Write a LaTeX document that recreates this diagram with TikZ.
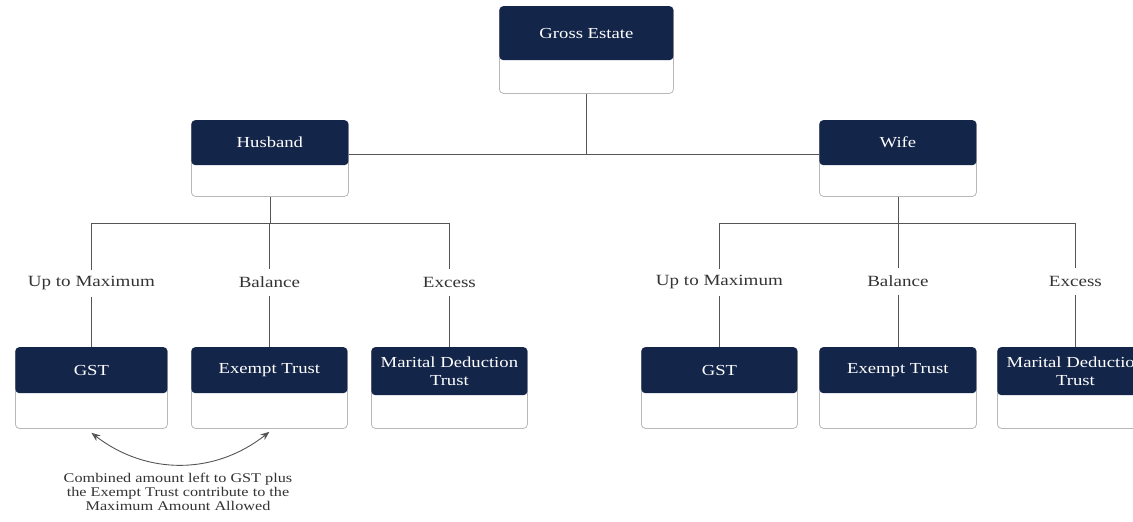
\documentclass[tikz,border=0pt]{standalone}
\usepackage{fontspec}
\setmainfont[FakeStretch=1.22]{Liberation Serif}
\usetikzlibrary{arrows.meta}
\definecolor{navy}{HTML}{14254A}
\definecolor{edgegray}{HTML}{B8B8B8}
\definecolor{linegray}{HTML}{555555}
\tikzset{
  outerbox/.style={draw=edgegray, line width=0.8pt, rounded corners=4pt, fill=white, inner sep=0pt, anchor=north west},
  header/.style={fill=navy, rounded corners=4pt, text=white, inner sep=0pt, anchor=north, align=center, font=\fontsize{15.3}{18.5}\selectfont},
  conn/.style={draw=linegray, line width=0.8pt},
  lbl/.style={inner sep=0pt, outer sep=0pt, minimum height=27, font=\fontsize{15.6}{17}\selectfont, text=black!80},
}
\begin{document}
\begin{tikzpicture}[x=1pt,y=-1pt]
\useasboundingbox (0,0) rectangle (1133,522);
\clip (0,0) rectangle (1133,522);
% Gross Estate
\node[outerbox, minimum width=174, minimum height=87] (ge) at (499,6) {};
\node[header, minimum width=174, minimum height=54] (geh) at (ge.north) {Gross Estate};
% Husband / Wife
\node[outerbox, minimum width=157, minimum height=76] (hu) at (191,120) {};
\node[header, minimum width=157, minimum height=45] (huh) at (hu.north) {Husband};
\node[outerbox, minimum width=157, minimum height=76] (wi) at (819,120) {};
\node[header, minimum width=157, minimum height=45] (wih) at (wi.north) {Wife};
% Husband children
\node[outerbox, minimum width=152, minimum height=81] (hg) at (15,347) {};
\node[header, minimum width=152, minimum height=46] (hgh) at (hg.north) {GST};
\node[outerbox, minimum width=156, minimum height=81] (he) at (191,347) {};
\node[header, minimum width=156, minimum height=46] (heh) at (he.north) {Exempt Trust};
\node[outerbox, minimum width=156, minimum height=81] (hm) at (371,347) {};
\node[header, minimum width=156, minimum height=48] (hmh) at (hm.north) {Marital Deduction\\Trust};
% Wife children
\node[outerbox, minimum width=156, minimum height=81] (wg) at (641,347) {};
\node[header, minimum width=156, minimum height=46] (wgh) at (wg.north) {GST};
\node[outerbox, minimum width=157, minimum height=81] (we) at (819,347) {};
\node[header, minimum width=157, minimum height=46] (weh) at (we.north) {Exempt Trust};
\node[outerbox, minimum width=156, minimum height=81] (wm) at (997,347) {};
\node[header, minimum width=156, minimum height=48] (wmh) at (wm.north) {Marital Deduction\\Trust};
% labels
\node[lbl] (hl1) at (hg.north |- 0,283) {Up to Maximum};
\node[lbl] (hl2) at (he.north |- 0,282) {Balance};
\node[lbl] (hl3) at (hm.north |- 0,282) {Excess};
\node[lbl] (wl1) at (wg.north |- 0,282) {Up to Maximum};
\node[lbl] (wl2) at (we.north |- 0,281) {Balance};
\node[lbl] (wl3) at (wm.north |- 0,281) {Excess};
% connectors top
\coordinate (gj) at (ge.south |- 0,154);
\draw[conn] (ge.south) -- (gj);
\draw[conn] (hu.east |- gj) -- (wi.west |- gj);
% husband tree
\coordinate (hj) at (hu.south |- 0,223);
\draw[conn] (hu.south) -- (hj);
\draw[conn] (hl1.north |- hj) -- (hl3.north |- hj);
\draw[conn] (hl1.north |- hj) -- (hl1.north);
\draw[conn] (hl2.north |- hj) -- (hl2.north);
\draw[conn] (hl3.north |- hj) -- (hl3.north);
\draw[conn] (hl1.south) -- (hg.north);
\draw[conn] (hl2.south) -- (he.north);
\draw[conn] (hl3.south) -- (hm.north);
% wife tree
\coordinate (wj) at (wi.south |- 0,223);
\draw[conn] (wi.south) -- (wj);
\draw[conn] (wl1.north |- wj) -- (wl3.north |- wj);
\draw[conn] (wl1.north |- wj) -- (wl1.north);
\draw[conn] (wl2.north |- wj) -- (wl2.north);
\draw[conn] (wl3.north |- wj) -- (wl3.north);
\draw[conn] (wl1.south) -- (wg.north);
\draw[conn] (wl2.south) -- (we.north);
\draw[conn] (wl3.south) -- (wm.north);
% arrow
\draw[draw=linegray, line width=0.9pt, {Stealth[length=9pt,width=7pt]}-{Stealth[length=9pt,width=7pt]}]
  ([yshift=-4pt]hg.south) to[bend right=38] ([yshift=-3pt]he.south);
\node[align=center, inner sep=0pt, font=\fontsize{13.3}{14}\selectfont, text=black!80] (note) at (178,492)
  {Combined amount left to GST plus\\the Exempt Trust contribute to the\\Maximum Amount Allowed};
\end{tikzpicture}
\end{document}
